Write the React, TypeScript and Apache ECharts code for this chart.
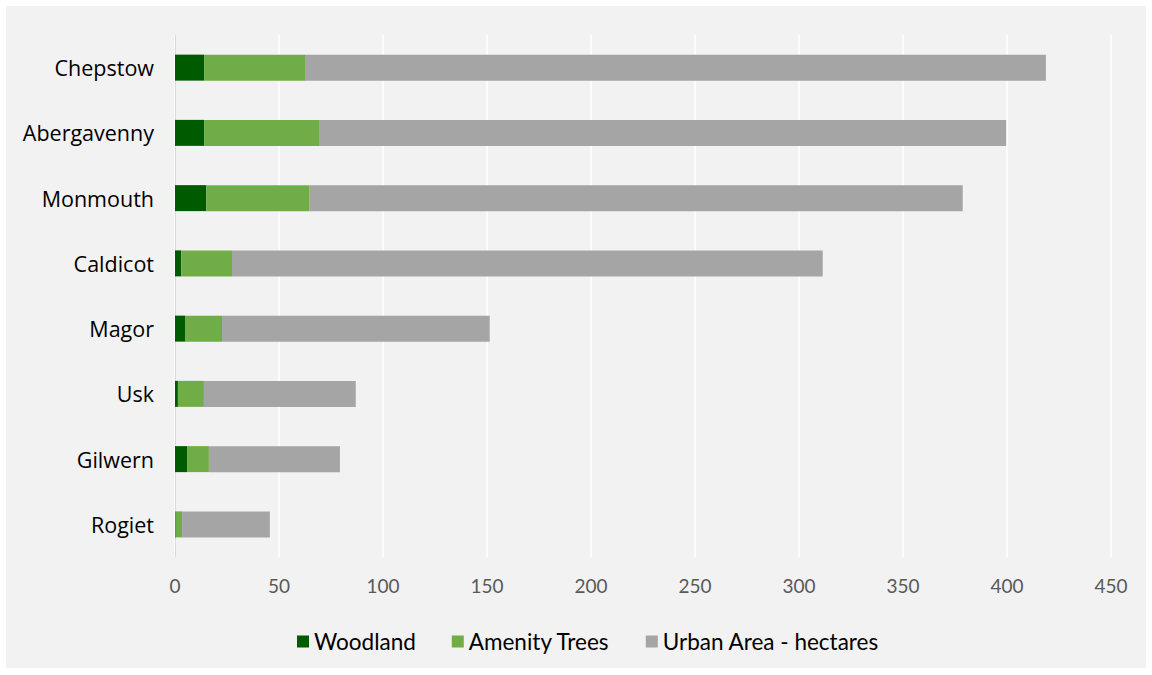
import React, { useEffect, useRef } from "react";
import * as echarts from "echarts";

const towns = ["Chepstow", "Abergavenny", "Monmouth", "Caldicot", "Magor", "Usk", "Gilwern", "Rogiet"];
const woodland = [14, 14, 15, 3, 4.8, 1.4, 5.8, 0.3];
const amenityTrees = [48.5, 55.6, 49.5, 24.4, 17.8, 12.5, 10.5, 3.1];
const urbanArea = [356.2, 330, 314.2, 284, 128.7, 73, 63, 42.2];

export default function App() {
  const ref = useRef<HTMLDivElement>(null);
  useEffect(() => {
    const chart = echarts.init(ref.current!, null, { renderer: "svg" });
    const cats = [...towns].reverse();
    const rev = (a: number[]) => [...a].reverse();
    const font = "Lato, 'Open Sans', sans-serif";
    chart.setOption({
      animation: false,
      backgroundColor: "#f2f2f2",
      grid: { left: 169, right: 35, top: 29, bottom: 111, containLabel: false },
      legend: {
        bottom: 10,
        left: 286,
        itemWidth: 12,
        itemHeight: 12,
        itemGap: 36,
        icon: "rect",
        textStyle: { color: "#000", fontSize: 22.5, fontFamily: font },
        data: ["Woodland", "Amenity Trees", "Urban Area - hectares"],
      },
      xAxis: {
        type: "value",
        min: 0,
        max: 450,
        interval: 50,
        axisLine: { show: false },
        axisTick: { show: false },
        splitLine: { lineStyle: { color: "#ffffff", width: 1.5 } },
        axisLabel: { color: "#595959", fontSize: 19, margin: 19, fontFamily: font },
      },
      yAxis: {
        type: "category",
        data: cats,
        axisLine: { show: true, lineStyle: { color: "#d9d9d9" } },
        axisTick: { show: false },
        axisLabel: { color: "#000", fontSize: 21.5, margin: 21, fontFamily: "'Open Sans', Lato, sans-serif" },
      },
      series: [
        { name: "Woodland", type: "bar", stack: "t", barWidth: 26, data: rev(woodland), itemStyle: { color: "#005a00" } },
        { name: "Amenity Trees", type: "bar", stack: "t", barWidth: 26, data: rev(amenityTrees), itemStyle: { color: "#70ad47" } },
        { name: "Urban Area - hectares", type: "bar", stack: "t", barWidth: 26, data: rev(urbanArea), itemStyle: { color: "#a5a5a5" } },
      ],
    });
    return () => chart.dispose();
  }, []);
  return (
    <div style={{ position: "fixed", left: 0, top: 0, width: 1152, height: 675, background: "#fff" }}>
      <div ref={ref} style={{ position: "absolute", left: 6, top: 6, width: 1140, height: 662 }} />
    </div>
  );
}
